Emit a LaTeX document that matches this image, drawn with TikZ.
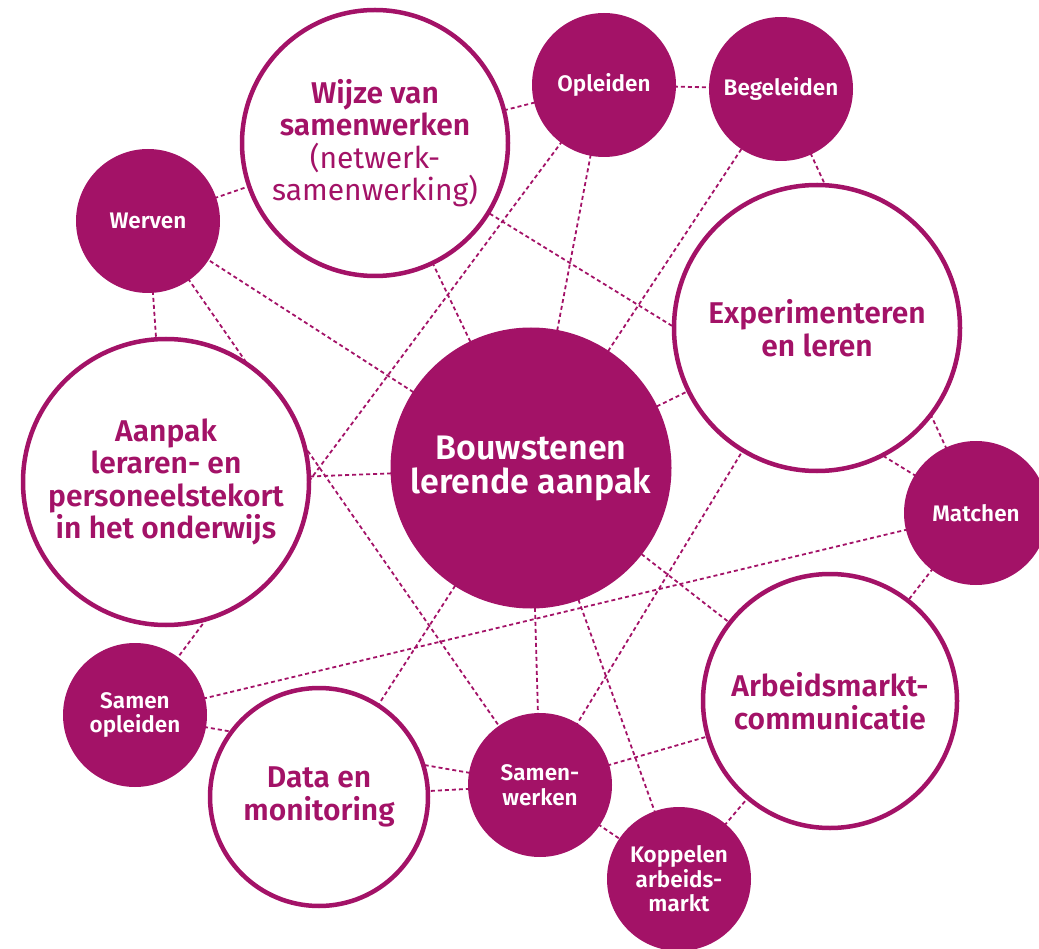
\documentclass[tikz,border=0pt]{standalone}
\usepackage{fontspec}
\setmainfont{Fira Sans}[BoldFont={* SemiBold}]
\usetikzlibrary{backgrounds}
\definecolor{kleurpaars}{HTML}{A31267}
\definecolor{kleurtekstwit}{HTML}{FFFFFF}
\newcommand{\verbind}[2]{\draw[lijn] (#1.center) -- (#2.center);}
\newcommand{\multiverbind}[2]{\foreach \knoop in {#1} {\draw[lijn] (#2.center) -- (\knoop.center);}}
\tikzset{
		basis/.style={circle, inner sep=0pt, align=center, font=\bfseries},
		groot/.style={basis, draw=kleurpaars, line width=4.5pt, fill=white, text=kleurpaars, font=\bfseries\fontsize{30}{32.5}\selectfont},
		kern/.style={basis, fill=kleurpaars, text=kleurtekstwit, font=\bfseries\fontsize{34}{34}\selectfont},
		klein/.style={basis, fill=kleurpaars, text=kleurtekstwit, minimum size=144pt, font=\bfseries\fontsize{22.5}{24.5}\selectfont},
		lijn/.style={draw=kleurpaars, line width=1.8pt, dash pattern=on 4pt off 3pt}
	}
\begin{document}
\begin{tikzpicture}[x=1pt, y=-1pt]
		\useasboundingbox (0,0) rectangle (1039,949);
		% grote cirkels
		\node[groot, minimum size=266pt](wijze) at (375,143) {Wijze van\\samenwerken\\\mdseries(netwerk-\\\mdseries samenwerking)};
		\node[groot, minimum size=286pt](exper) at (817,328) {Experimenteren\\en leren};
		\node[groot, minimum size=286pt](aanpak) at (166,482) {Aanpak\\leraren- en\\personeelstekort\\in het onderwijs};
		\node[groot, minimum size=254pt](arbeid) at (830,701) {Arbeidsmarkt-\\communicatie};
		\node[groot, minimum size=218pt](data) at (319,797) {Data en\\monitoring};
		\node[kern, minimum size=281pt](bouw) at (531,468) {Bouwstenen\\lerende aanpak};
		% kleine cirkels
		\node[klein](opleid) at (604,85) {Opleiden};
		\node[klein](begel) at (781,89) {Begeleiden};
		\node[klein](werven) at (148,221) {Werven};
		\node[klein](match) at (976,513) {Matchen};
		\node[klein](samopl) at (135,715) {Samen\\opleiden};
		\node[klein](samwerk) at (540,785) {Samen-\\werken};
		\node[klein](koppel) at (679,879) {Koppelen\\arbeids-\\markt};
		
		% Lijnen
		\begin{pgfonlayer}{background}
		\verbind{werven}{wijze}
		\verbind{wijze}{opleid}
		\verbind{opleid}{begel}
		\verbind{werven}{aanpak}
		\verbind{koppel}{arbeid}
		\verbind{samwerk}{koppel}
		\verbind{samwerk}{arbeid}
		\verbind{data}{samwerk}
		\verbind{samopl}{samwerk}
		\verbind{exper}{samwerk}
		\verbind{opleid}{samopl}
		\verbind{werven}{samwerk}
		
		\multiverbind{samopl,arbeid,wijze,begel}{match}
		\multiverbind{werven,wijze,opleid,begel,exper,aanpak,arbeid,samwerk,koppel,data}{bouw}
		\end{pgfonlayer}
	\end{tikzpicture}
\end{document}
